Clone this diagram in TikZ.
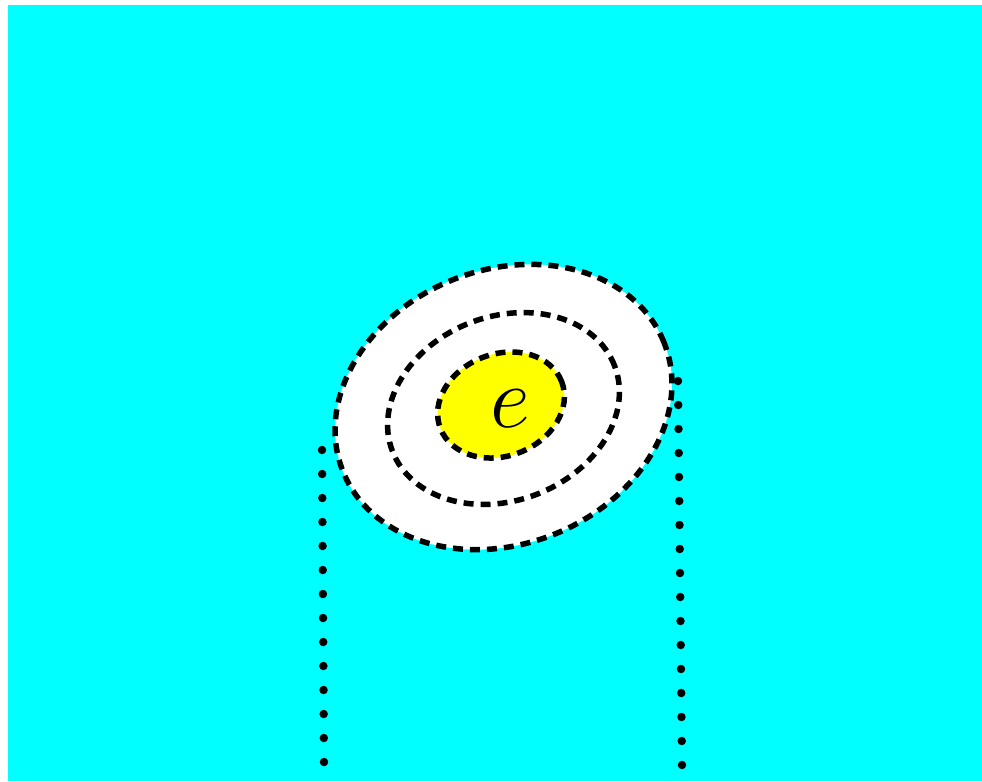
\documentclass[tikz,border=0pt]{standalone}
\usepackage{amsmath}
\usepackage{xcolor}
\usepackage{tikz}
\usetikzlibrary{arrows.meta}

\definecolor{ciano}{RGB}{0,255,255}
\definecolor{giallo}{RGB}{255,255,0}

\begin{document}
\begin{tikzpicture}[
    bordo/.style={line width=0.055cm, dash pattern=on 0.1cm off 0.07cm},
    puntini/.style={line width=0.085cm, line cap=round, dash pattern=on 0pt off 0.24cm}
]
    \useasboundingbox (0,0) rectangle (9.82,7.81);

    % Sfondo
    \fill[ciano] (0.08,0) rectangle (9.82,7.76);

    % Regioni attorno a e
    \draw[bordo, fill=white, rotate around={22:(5.035,3.74)}] (5.035,3.74) ellipse (1.73 and 1.37);
    \draw[bordo, rotate around={21:(5.035,3.725)}] (5.035,3.725) ellipse (1.19 and 0.92);
    \draw[bordo, fill=giallo, rotate around={21:(5.01,3.76)}] (5.01,3.76) ellipse (0.65 and 0.51);

    % Etichetta
    \node (e) at (5.10,3.72) {\fontsize{31}{36}\selectfont $e$};

    % Linee tratteggiate verticali
    \coordinate (sxalto) at (3.22,3.31);
    \coordinate (sxbasso) at (3.24,0.17);
    \coordinate (dxalto) at (6.78,4.00);
    \coordinate (dxbasso) at (6.82,0.14);
    \draw[puntini] (sxalto) -- (sxbasso);
    \draw[puntini] (dxalto) -- (dxbasso);
\end{tikzpicture}
\end{document}
